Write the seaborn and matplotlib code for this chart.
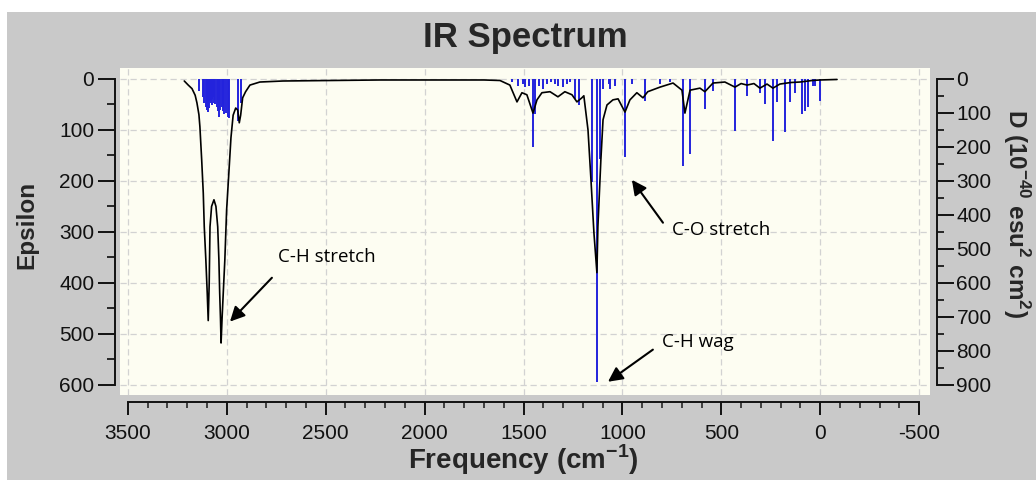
import numpy as np
import pandas as pd
import matplotlib
matplotlib.use("Agg")
import matplotlib.pyplot as plt
import seaborn as sns
from matplotlib.patches import Rectangle
from matplotlib.ticker import MultipleLocator

# ---------------- data ----------------
# broadened spectrum (black line, left axis: Epsilon)
curve_freq = [3215, 3195, 3176, 3160, 3151, 3141, 3136, 3127, 3119, 3114, 3106, 3099,
              3094, 3089, 3085, 3077, 3065, 3055, 3046, 3040, 3036, 3032, 3029, 3024,
              3018, 3010, 3001, 2989, 2979, 2968, 2955, 2945, 2937, 2930, 2920, 2905,
              2883, 2833, 2716, 2226, 1700, 1619, 1569, 1533, 1508, 1483, 1452, 1432,
              1407, 1366, 1326, 1291, 1255, 1230, 1205, 1195, 1174, 1159, 1144, 1129,
              1124, 1109, 1098, 1078, 1048, 1022, 987, 962, 927, 896, 872, 810,
              744, 699, 684, 658, 608, 583, 542, 482, 431, 400, 370, 335,
              305, 269, 239, 204, 150, 102, 40, 1, -85]
curve_eps = [4, 12, 19, 32, 47, 70, 94, 159, 224, 290, 355, 420,
             474, 400, 290, 250, 237, 250, 290, 355, 420, 470, 518, 470,
             420, 355, 257, 180, 115, 71, 57, 61, 86, 71, 37, 25,
             12, 6, 4, 2, 2, 3, 12, 45, 27, 31, 67, 41,
             27, 25, 35, 25, 31, 45, 37, 33, 100, 198, 302, 380,
             290, 159, 80, 51, 41, 39, 65, 41, 27, 37, 25, 16,
             8, 22, 67, 22, 18, 25, 8, 6, 16, 9, 12, 9,
             18, 10, 18, 10, 7, 6, 3, 2, 1]

# computed transitions (blue sticks, right axis: D)
stick_freq = [3141, 3119, 3113, 3107, 3102, 3097, 3091, 3085, 3081, 3077, 3073, 3069,
              3063, 3058, 3052, 3045, 3038, 3032, 3026, 3020, 3013, 3005, 2996, 2989,
              2942, 2929,
              1560, 1528, 1503, 1490, 1470, 1452, 1442, 1420, 1402, 1382, 1360, 1341,
              1326, 1300, 1280, 1265, 1240, 1220, 1154, 1129, 1114, 1098, 1070, 1063,
              1038, 987, 952, 886, 810, 760, 694, 658, 583,
              542, 431, 370, 305, 279, 239, 219, 178, 153, 128, 92, 77, 62, 37, 27, 1]
stick_D = [35, 53, 70, 82, 90, 97, 85, 65, 70, 78, 60, 53,
           70, 75, 82, 95, 112, 90, 82, 95, 103, 100, 112, 115,
           125, 70,
           10, 20, 15, 25, 20, 200, 103, 20, 30, 15, 10, 15,
           20, 25, 15, 10, 59, 78, 303, 891, 235, 30, 15, 30,
           20, 229, 15, 65, 15, 10, 255, 220, 88,
           35, 153, 50, 40, 74, 182, 68, 156, 68, 40, 103, 94, 82, 20, 20, 65]

x_ticks_major = 500
eps_ticks_major = 100
d_ticks_major = 100

annotations = [
    ("C-H stretch", (2984, 476), (2772, 390), (2742, 349)),
    ("C-O stretch", (952, 198), (795, 282), (750, 296)),
    ("C-H wag", (1073, 594), (846, 531), (800, 516)),
]

# ---------------- styling ----------------
sns.set_theme(style="white")
plt.rcParams["font.family"] = ["Liberation Sans", "DejaVu Sans"]
plt.rcParams["mathtext.fontset"] = "custom"
plt.rcParams["mathtext.rm"] = "Liberation Sans"
plt.rcParams["mathtext.bf"] = "Liberation Sans:bold"
plt.rcParams["axes.unicode_minus"] = False

W, H = 1036, 493
fig = plt.figure(figsize=(W / 100, H / 100), dpi=100)
fig.patch.set_facecolor("white")
fig.patches.append(Rectangle((7 / W, 1 - 480 / H), 1 - 7 / W, (480 - 12) / H,
                             transform=fig.transFigure, facecolor="#c9c9c9",
                             edgecolor="none", zorder=-10))

ax = fig.add_axes([120 / W, 1 - 395 / H, 810 / W, 327 / H])
ax.set_facecolor("#fdfdf2")
ax2 = ax.twinx()

ax.set_xlim(3540, -555)
ax.set_ylim(620, -21.5)
ax2.set_ylim(930, -32.25)

df = pd.DataFrame({"freq": curve_freq, "eps": curve_eps})
sns.lineplot(data=df, x="freq", y="eps", ax=ax, color="black", lw=1.2,
             sort=False, estimator=None, zorder=3)
ax.vlines(stick_freq, 0, stick_D, transform=ax2.transData, colors="#2323dc",
          lw=1.4, zorder=2)
ax.set_xlim(3540, -555)
ax.set_ylim(620, -21.5)

ax.grid(True, which="major", ls=(0, (5, 3)), color="#d2d2d2", lw=0.9)
ax.set_axisbelow(True)
ax.xaxis.set_major_locator(MultipleLocator(x_ticks_major))
ax.xaxis.set_minor_locator(MultipleLocator(100))
ax.yaxis.set_major_locator(MultipleLocator(eps_ticks_major))
ax.yaxis.set_minor_locator(MultipleLocator(50))
ax2.yaxis.set_major_locator(MultipleLocator(d_ticks_major))
ax2.yaxis.set_minor_locator(MultipleLocator(50))

for s in ["top", "right"]:
    ax.spines[s].set_visible(False)
for s in ["top", "left", "bottom"]:
    ax2.spines[s].set_visible(False)
ax.spines["left"].set_position(("outward", 3.6))
ax.spines["left"].set_bounds(0, 600)
ax.spines["bottom"].set_position(("outward", 5))
ax.spines["bottom"].set_bounds(-500, 3500)
ax2.spines["right"].set_position(("outward", 5))
ax2.spines["right"].set_bounds(0, 900)
for sp in [ax.spines["left"], ax.spines["bottom"], ax2.spines["right"]]:
    sp.set_color("#111111")
    sp.set_linewidth(1.4)

ax.tick_params(axis="y", which="major", direction="out", length=12, width=1.4,
               labelsize=15, pad=3, colors="#111111", left=True)
ax.tick_params(axis="y", which="minor", direction="out", length=6, width=1.4, left=True)
ax.tick_params(axis="x", which="major", direction="out", length=9, width=1.4,
               labelsize=15, pad=7, colors="#111111", bottom=True)
ax.tick_params(axis="x", which="minor", direction="out", length=4.5, width=1.2, bottom=True)
ax2.tick_params(axis="y", which="major", direction="out", length=12, width=1.4,
                labelsize=15, pad=2, colors="#111111", right=True)
ax2.tick_params(axis="y", which="minor", direction="out", length=5, width=1.4, right=True)
ax.set_xlabel("")
ax.set_ylabel("")

fig.text(525 / W, 1 - 47 / H, "IR Spectrum", ha="center", va="baseline",
         fontsize=25, fontweight="bold")
fig.text(27 / W, 1 - 225 / H, "Epsilon", rotation=90, ha="center", va="center",
         fontsize=17.5, fontweight="bold")
fig.text(523 / W, 1 - 460 / H, r"Frequency (cm$^{\mathbf{-1}}$)", ha="center",
         va="center", fontsize=20, fontweight="bold")
fig.text(1016 / W, 1 - 213 / H, r"D (10$^{\mathbf{-40}}$ esu$^{\mathbf{2}}$ cm$^{\mathbf{2}}$)",
         rotation=-90, ha="center", va="center", fontsize=17.5, fontweight="bold")

for label, tip, tail, tpos in annotations:
    ax.annotate("", xy=tip, xytext=tail,
                arrowprops=dict(arrowstyle="-|>", color="black", lw=1.5,
                                mutation_scale=22, shrinkA=0, shrinkB=0), zorder=5)
    ax.text(tpos[0], tpos[1], label, fontsize=13.5, family=["Open Sans", "DejaVu Sans"],
            ha="left", va="center", color="black", zorder=5)

fig.savefig("out.png", dpi=100)
